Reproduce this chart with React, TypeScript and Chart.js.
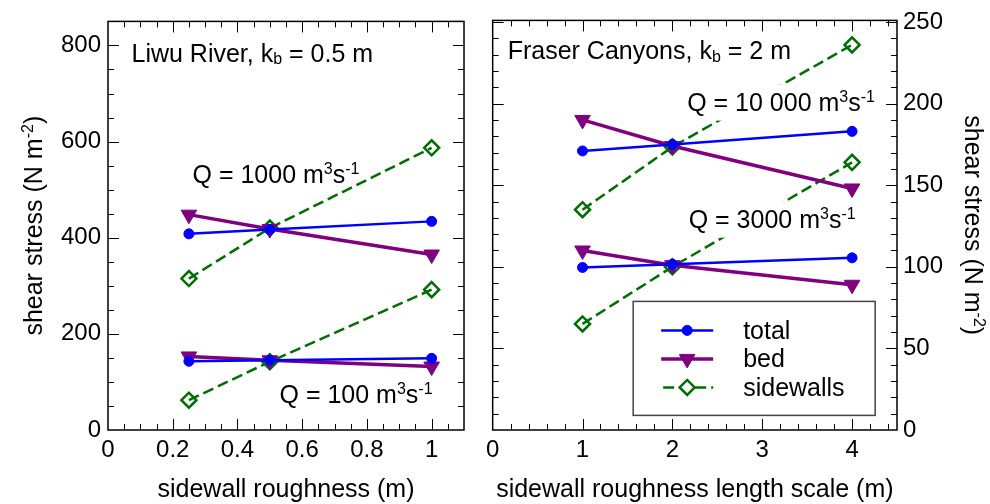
import React, { useEffect, useRef } from "react";
import { Chart, registerables } from "chart.js";

Chart.register(...registerables);

// ---------- data ----------
const liwuX = [0.25, 0.5, 1];
const liwuTotal1000 = [408, 417, 434];
const liwuBed1000 = [448, 418, 365];
const liwuSide1000 = [315, 420, 587];
const liwuTotal100 = [143, 145, 149];
const liwuBed100 = [153, 145, 132];
const liwuSide100 = [62, 142, 292];

const fraserX = [1, 2, 4];
const fraserTotal10000 = [171, 175, 183];
const fraserBed10000 = [190, 174, 148];
const fraserSide10000 = [135, 173.5, 236];
const fraserTotal3000 = [99.6, 101.6, 105.5];
const fraserBed3000 = [110, 101, 89];
const fraserSide3000 = [65, 100, 164];

const liwuXTicks = [0, 0.2, 0.4, 0.6, 0.8, 1];
const liwuYTicks = [0, 200, 400, 600, 800];
const fraserXTicks = [0, 1, 2, 3, 4];
const fraserYTicks = [0, 50, 100, 150, 200, 250];

const legendLabels = ["total", "bed", "sidewalls"];

// ---------- styles ----------
const FONT = '"Liberation Sans", Arial, Helvetica, sans-serif';
const BLUE = "#0000ff";
const PURPLE = "#800080";
const GREEN = "rgb(0,110,0)";
const DASH = [11, 5];

type Kind = "total" | "bed" | "sidewalls";
const STYLES: Record<Kind, any> = {
  total: {
    borderColor: BLUE,
    backgroundColor: BLUE,
    borderWidth: 2.5,
    pointStyle: "circle",
    pointRadius: 5,
    pointBorderWidth: 1,
  },
  bed: {
    borderColor: PURPLE,
    backgroundColor: PURPLE,
    borderWidth: 3.5,
    pointStyle: "triangle",
    pointRotation: 180,
    pointRadius: 9,
    pointBorderWidth: 1,
  },
  sidewalls: {
    borderColor: GREEN,
    backgroundColor: "rgba(0,0,0,0)",
    pointBackgroundColor: "rgba(0,0,0,0)",
    borderWidth: 2.5,
    borderDash: DASH,
    pointStyle: "rectRot",
    pointRadius: 7.5,
    pointBorderWidth: 2.5,
  },
};

function ds(label: string, xs: number[], ys: number[], kind: Kind) {
  return {
    label,
    data: xs.map((x, i) => ({ x, y: ys[i] })),
    fill: false,
    tension: 0,
    pointHoverRadius: STYLES[kind].pointRadius,
    ...STYLES[kind],
  };
}

// ---------- rich text ----------
type Seg = { t: string; s?: "sup" | "sub" };
function segFont(size: number, s?: string) {
  return `${s ? size * 0.64 : size}px ${FONT}`;
}
function richWidth(ctx: CanvasRenderingContext2D, segs: Seg[], size: number) {
  let w = 0;
  for (const seg of segs) {
    ctx.font = segFont(size, seg.s);
    w += ctx.measureText(seg.t).width;
  }
  return w;
}
function drawRich(
  ctx: CanvasRenderingContext2D,
  segs: Seg[],
  x: number,
  y: number,
  size: number,
  align: "left" | "center",
  rotation = 0,
  mask = false
) {
  ctx.save();
  ctx.translate(x, y);
  ctx.rotate(rotation);
  const w = richWidth(ctx, segs, size);
  let cx = align === "center" ? -w / 2 : 0;
  if (mask) {
    ctx.fillStyle = "#fff";
    ctx.fillRect(cx - 3, -size * 1.08, w + 6, size * 1.45);
  }
  ctx.textAlign = "left";
  ctx.textBaseline = "alphabetic";
  ctx.fillStyle = "#000";
  for (const seg of segs) {
    ctx.font = segFont(size, seg.s);
    const dy = seg.s === "sup" ? -size * 0.37 : seg.s === "sub" ? size * 0.1 : 0;
    ctx.fillText(seg.t, cx, dy);
    cx += ctx.measureText(seg.t).width;
  }
  ctx.restore();
}

const Q = (n: string): Seg[] => [
  { t: `Q = ${n} m` },
  { t: "3", s: "sup" },
  { t: "s" },
  { t: "-1", s: "sup" },
];
const shearTitle: Seg[] = [{ t: "shear stress (N m" }, { t: "-2", s: "sup" }, { t: ")" }];

// ---------- ticks / frame ----------
function line(ctx: CanvasRenderingContext2D, x1: number, y1: number, x2: number, y2: number) {
  ctx.beginPath();
  ctx.moveTo(x1, y1);
  ctx.lineTo(x2, y2);
  ctx.stroke();
}
function isMajor(v: number, step: number) {
  const r = v / step;
  return Math.abs(r - Math.round(r)) < 1e-6;
}
function drawFrame(chart: any, xMinor: number, xMajor: number, yMinor: number, yMajor: number) {
  const ctx: CanvasRenderingContext2D = chart.ctx;
  const { left, right, top, bottom } = chart.chartArea;
  const xs = chart.scales.x;
  const ys = chart.scales.y;
  ctx.save();
  ctx.strokeStyle = "#000";
  ctx.lineWidth = 1;
  for (let i = 1; ; i++) {
    const v = xs.min + i * xMinor;
    if (v >= xs.max - 1e-9) break;
    const px = Math.round(xs.getPixelForValue(v)) + 0.5;
    const L = isMajor(v, xMajor) ? 11 : 6;
    line(ctx, px, bottom, px, bottom - L);
    line(ctx, px, top, px, top + L);
  }
  for (let i = 1; ; i++) {
    const v = ys.min + i * yMinor;
    if (v >= ys.max - 1e-9) break;
    const py = Math.round(ys.getPixelForValue(v)) + 0.5;
    const L = isMajor(v, yMajor) ? 11 : 6;
    line(ctx, left, py, left + L, py);
    line(ctx, right, py, right - L, py);
  }
  ctx.lineWidth = 1.5;
  ctx.strokeRect(left, top, right - left, bottom - top);
  ctx.restore();
}

function drawLegend(ctx: CanvasRenderingContext2D, bx: number, by: number) {
  ctx.save();
  ctx.fillStyle = "#fff";
  ctx.fillRect(bx, by, 242, 114);
  ctx.strokeStyle = "#444";
  ctx.lineWidth = 1.5;
  ctx.strokeRect(bx, by, 242, 114);
  const kinds: Kind[] = ["total", "bed", "sidewalls"];
  kinds.forEach((k, i) => {
    const cy = by + 29 + i * 28.5;
    const st = STYLES[k];
    const x1 = bx + 28;
    const x2 = bx + 80;
    const mx = (x1 + x2) / 2;
    ctx.strokeStyle = st.borderColor;
    ctx.lineWidth = st.borderWidth;
    ctx.setLineDash(k === "sidewalls" ? DASH : []);
    ctx.lineDashOffset = k === "sidewalls" ? -2 : 0;
    line(ctx, x1, cy, x2, cy);
    ctx.setLineDash([]);
    ctx.fillStyle = st.borderColor;
    ctx.lineWidth = st.pointBorderWidth;
    ctx.beginPath();
    if (k === "total") {
      ctx.arc(mx, cy, 5, 0, Math.PI * 2);
      ctx.fill();
      ctx.stroke();
    } else if (k === "bed") {
      const r = 9;
      ctx.moveTo(mx, cy + r);
      ctx.lineTo(mx - r * 0.866, cy - r / 2);
      ctx.lineTo(mx + r * 0.866, cy - r / 2);
      ctx.closePath();
      ctx.fill();
      ctx.stroke();
    } else {
      const r = 7.5;
      ctx.fillStyle = "#fff";
      ctx.moveTo(mx - r, cy);
      ctx.lineTo(mx, cy - r);
      ctx.lineTo(mx + r, cy);
      ctx.lineTo(mx, cy + r);
      ctx.closePath();
      ctx.fill();
      ctx.stroke();
    }
    drawRich(ctx, [{ t: legendLabels[i] }], bx + 110, cy + 8.5, 25, "left");
  });
  ctx.restore();
}

// ---------- component ----------
const tickFont = { family: FONT, size: 24 };
const fmt = (v: any) => String(Math.round(Number(v) * 100) / 100);
const setTicks = (values: number[]) => (s: any) => {
  s.ticks = values.map((value) => ({ value }));
};
const noGrid = { display: false, drawTicks: false, tickLength: 0 };

export default function App() {
  const leftRef = useRef<HTMLCanvasElement>(null);
  const rightRef = useRef<HTMLCanvasElement>(null);

  useEffect(() => {
    const leftPlugin = {
      id: "leftPanel",
      afterDraw(chart: any) {
        const ctx: CanvasRenderingContext2D = chart.ctx;
        const { left, right, top, bottom } = chart.chartArea;
        drawFrame(chart, 0.05, 0.2, 50, 200);
        drawRich(ctx, [{ t: "Liwu River, k" }, { t: "b", s: "sub" }, { t: " = 0.5 m" }], left + 23.5, top + 40.5, 25, "left");
        drawRich(ctx, Q("1000"), left + 84.5, top + 162, 25, "left");
        drawRich(ctx, Q("100"), left + 171.5, top + 381.5, 25, "left");
        drawRich(ctx, shearTitle, 42, (top + bottom) / 2, 25, "center", -Math.PI / 2);
        drawRich(ctx, [{ t: "sidewall roughness (m)" }], (left + right) / 2, 497, 25, "center");
      },
    };
    const rightPlugin = {
      id: "rightPanel",
      afterDraw(chart: any) {
        const ctx: CanvasRenderingContext2D = chart.ctx;
        const { left, right, top, bottom } = chart.chartArea;
        drawFrame(chart, 0.2, 1, 10, 50);
        drawRich(ctx, [{ t: "Fraser Canyons, k" }, { t: "b", s: "sub" }, { t: " = 2 m" }], left + 15, top + 39, 25, "left");
        drawRich(ctx, Q("10 000"), left + 194.5, top + 91, 25, "left", 0, true);
        drawRich(ctx, Q("3000"), left + 196, top + 208, 25, "left", 0, true);
        drawLegend(ctx, left + 140.5, top + 281);
        drawRich(ctx, shearTitle, right + 68, (top + bottom) / 2, 25, "center", Math.PI / 2);
        drawRich(ctx, [{ t: "sidewall roughness length scale (m)" }], (left + right) / 2, 497, 25, "center");
      },
    };

    const common = {
      responsive: false,
      maintainAspectRatio: false,
      animation: false as const,
      devicePixelRatio: 1,
      plugins: { legend: { display: false }, tooltip: { enabled: false } },
      events: [] as any[],
    };

    const c1 = new Chart(leftRef.current!, {
      type: "line",
      data: {
        datasets: [
          ds("total", liwuX, liwuTotal1000, "total"),
          ds("bed", liwuX, liwuBed1000, "bed"),
          ds("sidewalls", liwuX, liwuSide1000, "sidewalls"),
          ds("total", liwuX, liwuTotal100, "total"),
          ds("bed", liwuX, liwuBed100, "bed"),
          ds("sidewalls", liwuX, liwuSide100, "sidewalls"),
        ],
      },
      options: {
        ...common,
        layout: { padding: { left: 0, right: 16, top: 20, bottom: 0 } },
        scales: {
          x: {
            type: "linear",
            min: 0,
            max: 1.1,
            afterBuildTicks: setTicks(liwuXTicks),
            ticks: { padding: 6, font: tickFont, color: "#000", maxRotation: 0, callback: fmt },
            grid: noGrid,
            border: { display: false },
            afterFit: (s: any) => {
              s.height = 74;
            },
          },
          y: {
            type: "linear",
            min: 0,
            max: 850,
            afterBuildTicks: setTicks(liwuYTicks),
            ticks: { padding: 7, font: tickFont, color: "#000", callback: fmt },
            grid: noGrid,
            border: { display: false },
            afterFit: (s: any) => {
              s.width = 108;
            },
          },
        },
      } as any,
      plugins: [leftPlugin],
    });

    const c2 = new Chart(rightRef.current!, {
      type: "line",
      data: {
        datasets: [
          ds("total", fraserX, fraserTotal10000, "total"),
          ds("bed", fraserX, fraserBed10000, "bed"),
          ds("sidewalls", fraserX, fraserSide10000, "sidewalls"),
          ds("total", fraserX, fraserTotal3000, "total"),
          ds("bed", fraserX, fraserBed3000, "bed"),
          ds("sidewalls", fraserX, fraserSide3000, "sidewalls"),
        ],
      },
      options: {
        ...common,
        layout: { padding: { left: 12, right: 0, top: 20, bottom: 0 } },
        scales: {
          x: {
            type: "linear",
            min: 0,
            max: 4.5,
            afterBuildTicks: setTicks(fraserXTicks),
            ticks: { padding: 6, font: tickFont, color: "#000", maxRotation: 0, callback: fmt },
            grid: noGrid,
            border: { display: false },
            afterFit: (s: any) => {
              s.height = 74;
            },
          },
          y: {
            type: "linear",
            position: "right",
            min: 0,
            max: 251,
            afterBuildTicks: setTicks(fraserYTicks),
            ticks: { padding: 6, font: tickFont, color: "#000", callback: fmt },
            grid: noGrid,
            border: { display: false },
            afterFit: (s: any) => {
              s.width = 93;
            },
          },
        },
      } as any,
      plugins: [rightPlugin],
    });

    return () => {
      c1.destroy();
      c2.destroy();
    };
  }, []);

  return (
    <div style={{ position: "fixed", left: 0, top: 0, width: 990, height: 504, background: "#fff" }}>
      <canvas ref={leftRef} width={480} height={504} style={{ position: "absolute", left: 0, top: 0, width: 480, height: 504 }} />
      <canvas ref={rightRef} width={510} height={504} style={{ position: "absolute", left: 480, top: 0, width: 510, height: 504 }} />
    </div>
  );
}
